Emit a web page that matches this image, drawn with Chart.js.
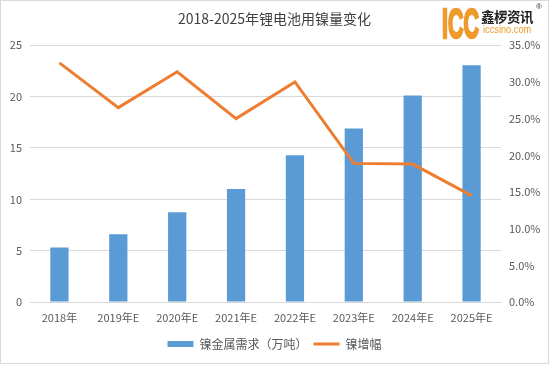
<!DOCTYPE html>
<html>
<head>
<meta charset="utf-8">
<script src="https://cdn.jsdelivr.net/npm/chart.js@4/dist/chart.umd.min.js"></script>
<style>
  body { margin: 0; background: #fff; }
  #wrap { position: relative; width: 549px; height: 365px; }
  #frame { position: absolute; left: 0; top: 0; width: 547px; height: 362px; border: 1px solid #d9d9d9; pointer-events: none; }
  .logo { position: absolute; white-space: nowrap; line-height: 1; }
</style>
</head>
<body>
<div id="wrap">
  <canvas id="nickelChart" width="549" height="365"></canvas>
  <div id="frame"></div>
  <div class="logo" style="left:442px;top:-1px;font:bold 43px 'Liberation Sans';color:#ef9a2c;-webkit-text-stroke:2.5px #ef9a2c;transform:scaleX(0.5);transform-origin:0 0;">ICC</div>
  <div class="logo" style="left:481px;top:6px;font:bold 13.5px 'Noto Sans CJK SC';color:#222;letter-spacing:-0.5px;">鑫椤资讯</div>
  <div class="logo" style="left:536px;top:2px;font:8px 'Liberation Sans';color:#333;">®</div>
  <div class="logo" style="left:483px;top:23px;font:10.5px 'Liberation Sans';color:#ef9a2c;transform:scaleX(0.88);transform-origin:0 0;">iccsino.com</div>
</div>
<script>
const support_color = "#595959"; // axis labels
const grid_color = "#d9d9d9";
const barColor = "#5b9bd5";
const lineColor = "#ed7d31";

// data
const years = ['2018年', '2019年E', '2020年E', '2021年E', '2022年E', '2023年E', '2024年E', '2025年E'];
const demand = [5.3, 6.6, 8.75, 11.0, 14.3, 16.9, 20.1, 23.05];   // 万吨
const growth = [32.6, 26.5, 31.4, 25.0, 30.0, 18.9, 18.8, 14.5];  // %

const tickFont = { family: "'Noto Sans CJK SC'", size: 11 };

let config = {
  type: 'bar',
  data: {
    labels: years,
    datasets: [
      {
        type: 'bar',
        label: '镍金属需求（万吨）',
        data: demand,
        backgroundColor: barColor,
        borderWidth: 0,
        yAxisID: 'y',
        categoryPercentage: 1,
        barPercentage: 0.31,
        order: 2
      },
      {
        type: 'line',
        label: '镍增幅',
        data: growth,
        borderColor: lineColor,
        backgroundColor: lineColor,
        borderWidth: 3,
        pointRadius: 0,
        tension: 0,
        yAxisID: 'y1',
        order: 1
      }
    ]
  },
  options: {
    responsive: false,
    animation: false,
    events: [],
    layout: { padding: { left: 0, right: 0, top: 0, bottom: 5 } },
    plugins: {
      title: {
        display: true,
        text: '2018-2025年锂电池用镍量变化',
        color: '#404040',
        font: { family: "'Noto Sans CJK SC'", size: 14, weight: 'normal' },
        padding: { top: 10, bottom: 18.5 }
      },
      legend: {
        position: 'bottom',
        labels: {
          color: support_color,
          font: { family: "'Noto Sans CJK SC'", size: 12 },
          usePointStyle: true,
          pointStyleWidth: 26,
          boxHeight: 6,
          padding: 6,
          sort: function(a, b) { return a.datasetIndex - b.datasetIndex; },
          generateLabels: function(chart) {
            const items = Chart.defaults.plugins.legend.labels.generateLabels(chart);
            items.forEach(function(it) {
              if (it.datasetIndex === 0) {
                it.pointStyle = 'rect';
                it.lineWidth = 0;
              } else {
                it.pointStyle = 'line';
                it.lineWidth = 3;
                it.strokeStyle = lineColor;
              }
            });
            return items;
          }
        }
      },
      tooltip: { enabled: false }
    },
    scales: {
      x: {
        offset: true,
        grid: { display: false, drawTicks: false },
        border: { display: true, color: grid_color },
        ticks: { color: support_color, font: tickFont, padding: 9, maxRotation: 0 },
        afterFit: function(scale) { scale.height = 30; }
      },
      y: {
        position: 'left',
        min: 0,
        max: 25,
        grid: { color: grid_color, drawTicks: false },
        border: { display: false },
        ticks: { stepSize: 5, color: support_color, font: tickFont, padding: 8 },
        afterFit: function(scale) { scale.width = 30; }
      },
      y1: {
        position: 'right',
        min: 0,
        max: 35,
        grid: { display: false, drawTicks: false },
        border: { display: false },
        ticks: {
          stepSize: 5,
          color: support_color,
          font: tickFont,
          padding: 8,
          callback: function(v) { return v.toFixed(1) + '%'; }
        },
        afterFit: function(scale) { scale.width = 48; }
      }
    }
  }
};

let ctx = document.getElementById('nickelChart').getContext('2d');
new Chart(ctx, config);
</script>
</body>
</html>
